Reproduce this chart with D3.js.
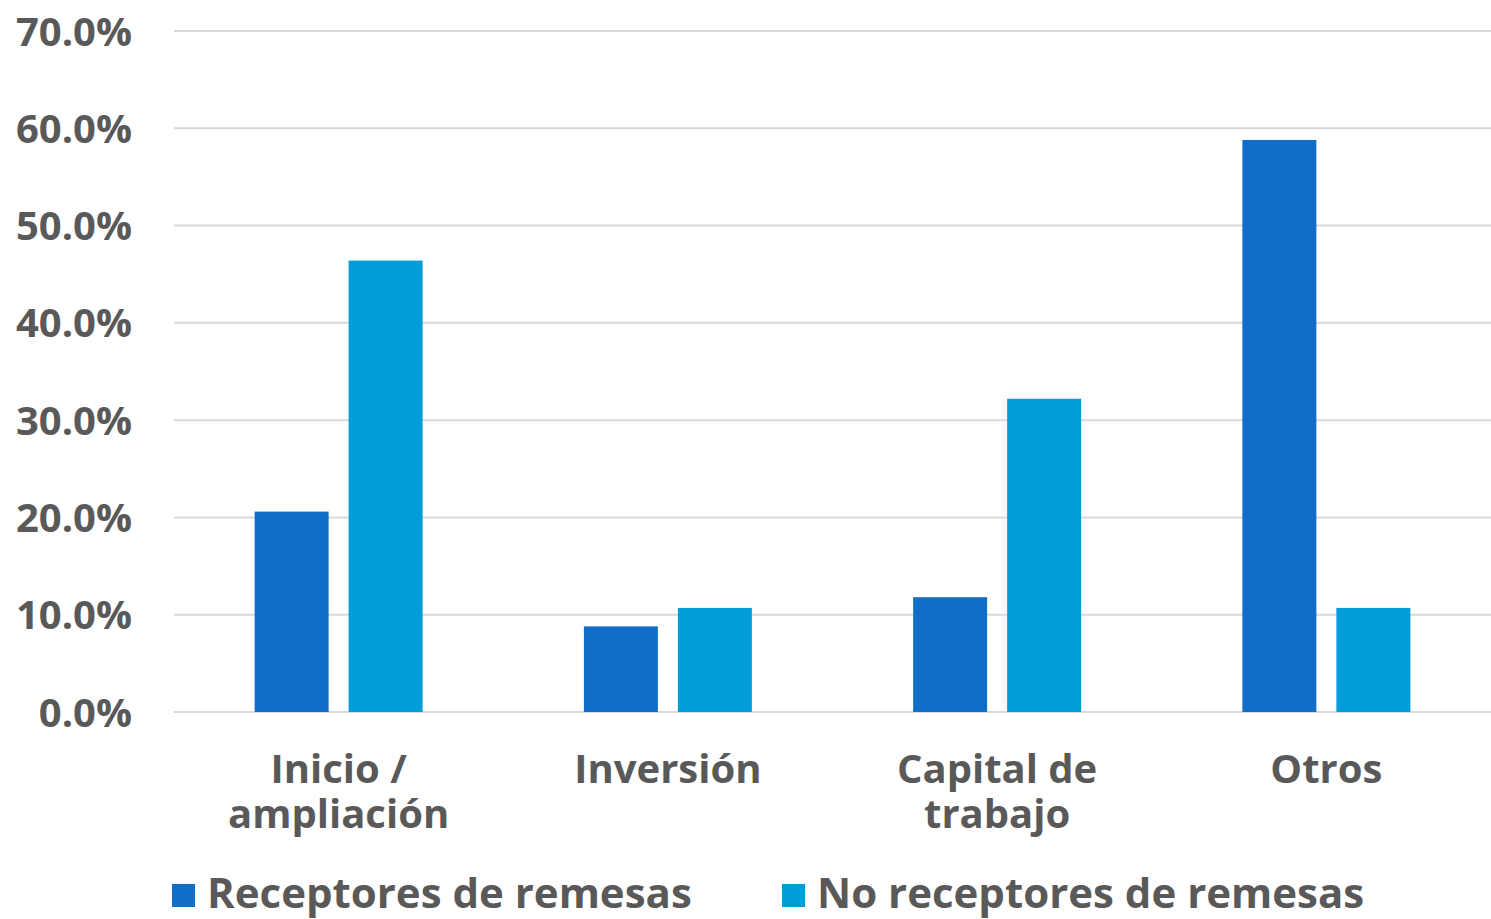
<!DOCTYPE html>
<html><head><meta charset="utf-8">
<script src="https://cdn.jsdelivr.net/npm/d3@7"></script>
<style>
body{margin:0;background:#fff;}
text{font-family:"Open Sans",sans-serif;font-weight:700;fill:#595959;}
</style></head>
<body><svg id="c" width="1491" height="919"></svg>
<script>
const categories = [["Inicio /","ampliación"],["Inversión"],["Capital de","trabajo"],["Otros"]];
const seriesNames = ["Receptores de remesas","No receptores de remesas"];
const receptores = [20.6, 8.8, 11.8, 58.8];
const noReceptores = [46.4, 10.7, 32.2, 10.7];
const yTicks = [0,10,20,30,40,50,60,70];
const colors = ["#0F6FC6","#009DD9"];

(function(){
const svg = d3.select("#c");
const pLeft = 174, pRight = 1491, pTop = 31, pBottom = 712;
const catKeys = categories.map(c=>c.join(" "));
const x0 = d3.scaleBand().domain(catKeys).range([pLeft,pRight]).padding(0);
const x1 = d3.scaleBand().domain(seriesNames).range([0,x0.bandwidth()]).paddingInner(0.2128).paddingOuter(0.8577);
const y = d3.scaleLinear().domain([0,70]).range([pBottom,pTop]);

// gridlines
svg.append("g").selectAll("line").data(yTicks).join("line")
  .attr("x1",pLeft).attr("x2",pRight)
  .attr("y1",d=>y(d)).attr("y2",d=>y(d))
  .attr("stroke","#D9D9D9").attr("stroke-width",2);

// y axis labels
const yAxis = d3.axisLeft(y).tickValues(yTicks).tickFormat(d=>d.toFixed(1)+"%").tickSize(0).tickPadding(0);
const ga = svg.append("g").attr("transform",`translate(132,0)`).call(yAxis);
ga.select(".domain").remove();
ga.attr("font-family",null).attr("font-size",null);
ga.selectAll("text").style("font-size","40px").attr("fill","#595959").attr("dy","0.35em");

// bars
const data = catKeys.map((k,i)=>({k, vals:[receptores[i],noReceptores[i]]}));
const groups = svg.append("g").selectAll("g").data(data).join("g")
  .attr("transform",d=>`translate(${x0(d.k)},0)`);
groups.selectAll("rect").data(d=>d.vals.map((v,j)=>({s:seriesNames[j],v,j}))).join("rect")
  .attr("x",d=>x1(d.s)).attr("width",x1.bandwidth())
  .attr("y",d=>y(d.v)).attr("height",d=>y(0)-y(d.v))
  .attr("fill",d=>colors[d.j]);

// x labels (one text per line)
const lines = [];
categories.forEach((c,i)=>c.forEach((t,j)=>lines.push({t, cx:x0(catKeys[i])+x0.bandwidth()/2, j})));
svg.append("g").selectAll("text").data(lines).join("text")
  .attr("text-anchor","middle").style("font-size","40px")
  .attr("x",d=>d.cx).attr("y",d=>783+d.j*45).text(d=>d.t);

// legend
const legX = [172, 782];
const lg = svg.append("g").selectAll("g").data(seriesNames).join("g")
  .attr("transform",(d,i)=>`translate(${legX[i]},0)`);
lg.append("rect").attr("x",0).attr("y",884).attr("width",23).attr("height",23).attr("fill",(d,i)=>colors[i]);
lg.append("text").attr("x",35).attr("y",908).style("font-size","42px").text(d=>d);
})();
</script></body></html>
